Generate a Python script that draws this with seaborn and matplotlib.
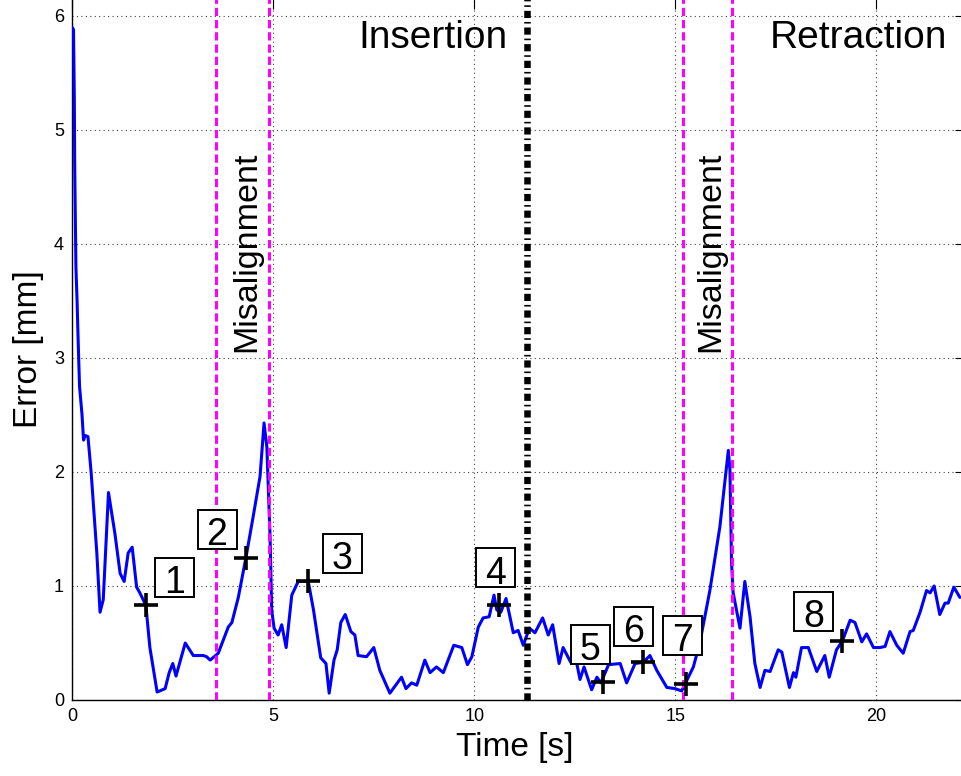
import matplotlib
matplotlib.use("Agg")
import matplotlib.pyplot as plt
from matplotlib.path import Path
import seaborn as sns
import pandas as pd

# ---------------- data ----------------
time_s = [0.00, 0.03, 0.05, 0.06, 0.075, 0.09, 0.12, 0.14, 0.18, 0.24, 0.28, 0.32, 0.39, 0.47,
          0.61, 0.69, 0.77, 0.90, 1.06, 1.19, 1.29, 1.39, 1.49, 1.60, 1.68, 1.83, 1.93, 2.11,
          2.31, 2.41, 2.50, 2.58, 2.81, 3.01, 3.26, 3.34, 3.43, 3.63, 3.88, 3.97, 4.13, 4.32,
          4.50, 4.67, 4.77, 4.84, 4.92, 4.96, 5.02, 5.12, 5.21, 5.32, 5.46, 5.62, 5.87, 6.00,
          6.18, 6.31, 6.39, 6.51, 6.59, 6.68, 6.79, 6.93, 7.03, 7.11, 7.32, 7.50, 7.65, 7.90,
          8.19, 8.30, 8.44, 8.57, 8.77, 8.90, 9.06, 9.23, 9.49, 9.69, 9.83, 9.94, 10.10, 10.22,
          10.37, 10.49, 10.56, 10.66, 10.79, 10.97, 11.09, 11.22, 11.37, 11.51, 11.70, 11.84,
          11.95, 12.11, 12.21, 12.40, 12.55, 12.63, 12.73, 12.92, 13.05, 13.15, 13.34, 13.63,
          13.79, 14.00, 14.20, 14.37, 14.54, 14.79, 14.99, 15.16, 15.45, 15.61, 15.86, 16.11,
          16.32, 16.36, 16.40, 16.44, 16.61, 16.73, 16.86, 16.98, 17.11, 17.23, 17.36, 17.56,
          17.65, 17.84, 17.94, 18.00, 18.14, 18.31, 18.52, 18.72, 18.83, 19.01, 19.16, 19.35,
          19.47, 19.64, 19.76, 19.93, 20.09, 20.22, 20.34, 20.51, 20.67, 20.84, 20.92, 21.09,
          21.25, 21.34, 21.44, 21.58, 21.71, 21.79, 21.93, 22.08]
error_mm = [5.90, 5.88, 5.29, 4.68, 4.25, 3.80, 3.49, 3.22, 2.75, 2.51, 2.28, 2.32, 2.31, 1.99,
            1.29, 0.77, 0.88, 1.82, 1.46, 1.11, 1.04, 1.29, 1.34, 0.99, 0.94, 0.83, 0.46, 0.07,
            0.10, 0.24, 0.32, 0.21, 0.50, 0.39, 0.39, 0.38, 0.35, 0.41, 0.64, 0.68, 0.90, 1.25,
            1.61, 1.96, 2.43, 2.22, 1.43, 0.79, 0.63, 0.57, 0.66, 0.46, 0.92, 1.04, 1.04, 0.79,
            0.37, 0.32, 0.06, 0.35, 0.44, 0.68, 0.75, 0.60, 0.57, 0.39, 0.38, 0.46, 0.26, 0.06,
            0.20, 0.10, 0.15, 0.13, 0.35, 0.24, 0.29, 0.24, 0.48, 0.46, 0.31, 0.38, 0.64, 0.72,
            0.73, 0.92, 0.79, 0.77, 0.89, 0.59, 0.61, 0.48, 0.63, 0.59, 0.72, 0.57,
            0.66, 0.32, 0.46, 0.33, 0.32, 0.18, 0.29, 0.09, 0.20, 0.15, 0.31, 0.32,
            0.15, 0.32, 0.33, 0.39, 0.26, 0.11, 0.10, 0.08, 0.29, 0.50, 0.96, 1.52,
            2.19, 2.02, 1.20, 0.94, 0.63, 1.04, 0.73, 0.32, 0.11, 0.26, 0.25, 0.44,
            0.42, 0.11, 0.24, 0.20, 0.46, 0.46, 0.25, 0.39, 0.20, 0.44, 0.52, 0.70,
            0.68, 0.51, 0.58, 0.46, 0.46, 0.47, 0.60, 0.48, 0.41, 0.60, 0.61, 0.77,
            0.96, 0.94, 1.00, 0.75, 0.85, 0.85, 0.99, 0.90]

marker_t = [1.83, 4.32, 5.87, 10.62, 13.19, 14.20, 15.26, 19.16]
marker_e = [0.83, 1.25, 1.04, 0.83, 0.16, 0.33, 0.14, 0.52]

label_ids = ["1", "2", "3", "4", "5", "6", "7", "8"]
label_t = [2.55, 3.60, 6.71, 10.52, 12.89, 13.97, 15.19, 18.45]
label_e = [1.08, 1.50, 1.29, 1.16, 0.49, 0.65, 0.57, 0.78]

misalign_t = [3.58, 4.90, 15.20, 16.42]
misalign_text = "Misalignment"
misalign_text_t = [4.33, 15.89]
misalign_text_e = 3.93

switch_t = 11.30
phase_names = ["Insertion", "Retraction"]
phase_t = [8.97, 19.55]
phase_e = 5.81

x_ticks = [0, 5, 10, 15, 20]
y_ticks = [0, 1, 2, 3, 4, 5, 6]
x_label = "Time [s]"
y_label = "Error [mm]"

# ---------------- style ----------------
sns.set_style("white")
plt.rcParams["font.family"] = ["Liberation Sans", "DejaVu Sans"]
plt.rcParams["text.color"] = "black"
plt.rcParams["axes.labelcolor"] = "black"
plt.rcParams["xtick.color"] = "black"
plt.rcParams["ytick.color"] = "black"

fig = plt.figure(figsize=(9.61, 7.76), dpi=100)
ax = fig.add_axes([72.3 / 961, 76 / 776, 892.4 / 961, 701.1 / 776])

df = pd.DataFrame({"t": time_s, "e": error_mm})
sns.lineplot(data=df, x="t", y="e", sort=False, estimator=None,
             color="#0000ff", linewidth=2.2, ax=ax, zorder=3)

for xv in misalign_t:
    ax.axvline(xv, color="#ff00ff", linewidth=2.2, linestyle=(0, (2.7, 1.3)), zorder=4)
ax.axvline(switch_t, color="black", linewidth=4.7,
           linestyle=(0, (1.1, 0.6, 0.25, 0.6)), zorder=4)

sns.scatterplot(x=marker_t, y=marker_e, marker="+", s=300, color="black",
                linewidth=2.6, ax=ax, zorder=6, legend=False)


def square_box(x0, y0, width, height, mutation_size):
    side = 1.04 * mutation_size
    cx = x0 + width / 2
    cy = y0 + 0.21 * mutation_size + 0.43 * mutation_size
    h = side / 2
    return Path([(cx - h, cy - h), (cx + h, cy - h), (cx + h, cy + h),
                 (cx - h, cy + h), (cx - h, cy - h)], closed=True)


for txt, xt, yt in zip(label_ids, label_t, label_e):
    ax.annotate(txt, xy=(xt, yt), xytext=(0, -0.43 * 27), textcoords="offset points",
                ha="center", va="baseline", fontsize=27, zorder=7, color="black",
                bbox=dict(boxstyle=square_box, fc="white", ec="black", lw=1.4))

for xt in misalign_text_t:
    ax.text(xt, misalign_text_e, misalign_text, rotation=90, ha="center", va="center",
            fontsize=24.5, zorder=7, color="black")
for name, xt in zip(phase_names, phase_t):
    ax.text(xt, phase_e, name, ha="center", va="center", fontsize=28, zorder=7,
            color="black")

ax.set_xlim(0, 22.2)
ax.set_ylim(0, 6.15)
ax.set_xticks(x_ticks)
ax.set_yticks(y_ticks)
ax.grid(True, color="#404040", linewidth=0.8, linestyle=(0, (1, 3)))
ax.tick_params(direction="in", length=7, width=0.8, labelsize=13, pad=6,
               top=True, right=True, colors="black", labelcolor="black")
for sp in ax.spines.values():
    sp.set_color("black")
    sp.set_linewidth(1.0)

ax.set_xlabel(x_label, fontsize=24, color="black")
ax.set_ylabel(y_label, fontsize=24, color="black")
ax.xaxis.set_label_coords(0.496, -0.045)
ax.yaxis.set_label_coords(-0.032, 0.5)

fig.savefig("out.png", dpi=100)
